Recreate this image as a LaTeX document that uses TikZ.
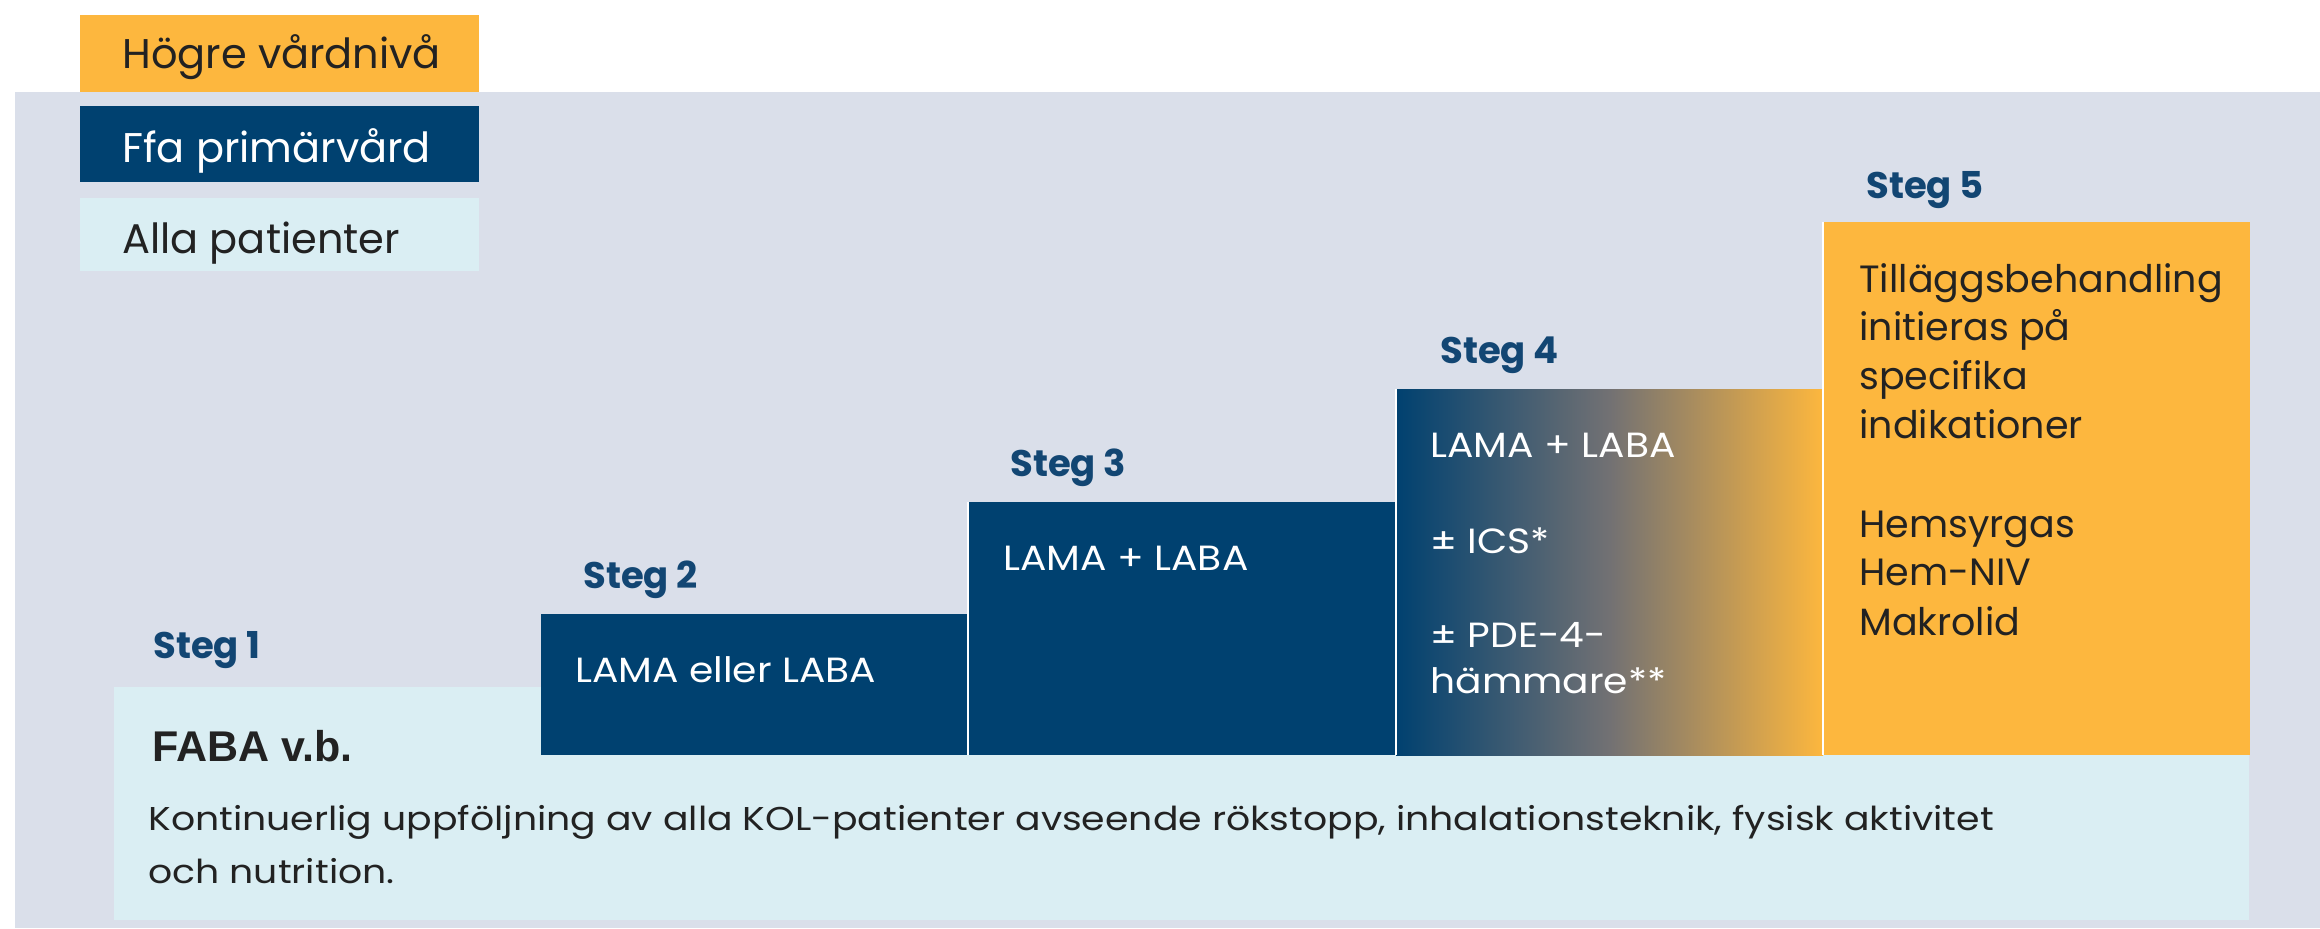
\documentclass[tikz,border=0pt]{standalone}
\usepackage{fontspec}
\setmainfont{Poppins}
\newfontfamily\fabafont{Liberation Sans}
\newfontfamily\stepface[FakeStretch=1.12]{Poppins}
\newfontfamily\bodyface[FakeStretch=1.145]{Poppins}
\definecolor{bgGray}{HTML}{DADFEA}
\definecolor{careOrange}{HTML}{FDB73E}
\definecolor{careNavy}{HTML}{004170}
\definecolor{careCyan}{HTML}{DAEEF3}
\definecolor{blendGray}{HTML}{727173}
\definecolor{stegBlue}{HTML}{124673}
\definecolor{inkDark}{HTML}{222222}
\begin{document}
\begin{tikzpicture}[x=0.5pt,y=-0.5pt,
  every node/.style={inner sep=0pt, anchor=base west},
  legendtext/.style={font=\fontsize{20.75}{24}\selectfont},
  steglabel/.style={font=\bfseries\fontsize{18.5}{22}\selectfont, text=stegBlue},
  boxtext/.style={font=\stepface\fontsize{17.5}{21}\selectfont, text=white},
  addtext/.style={font=\fontsize{19}{22}\selectfont, text=inkDark},
  bodytext/.style={font=\bodyface\fontsize{16.5}{20}\selectfont, text=inkDark},
  separator/.style={draw=white, line width=1pt},
]
\useasboundingbox (0,0) rectangle (2320,928);

% grey panel behind the staircase
\fill[bgGray] (15,92) rectangle (2320,928);

% legend
\fill[careOrange] (80,15) rectangle (479,92);
\fill[careNavy] (80,106) rectangle (479,182);
\fill[careCyan] (80,198) rectangle (479,271);
\node[legendtext, text=inkDark] (lgHigh) at (122,68) {Högre vårdnivå};
\node[legendtext, text=white] (lgPrim) at (122,162) {Ffa primärvård};
\node[legendtext, text=inkDark] (lgAll) at (122,253) {Alla patienter};

% base band for all patients
\fill[careCyan] (114,687) rectangle (2249,920);

% steps 2 to 5
\fill[careNavy] (541,614) rectangle (968,755);
\fill[careNavy] (968,502) rectangle (1396,755);
\shade[left color=careNavy, right color=careOrange, middle color=blendGray] (1396,389) rectangle (1823,755);
\fill[careOrange] (1823,222) rectangle (2250,755);
\draw[separator] (968,502) -- (968,755);
\draw[separator] (1396,389) -- (1396,755);
\draw[separator] (1823,222) -- (1823,755);

% step labels
\node[steglabel] (st1) at (153,658) {Steg 1};
\node[steglabel] (st2) at (583,588) {Steg 2};
\node[steglabel] (st3) at (1010,476) {Steg 3};
\node[steglabel] (st4) at (1440,363) {Steg 4};
\node[steglabel] (st5) at (1866,198) {Steg 5};

% step contents
\node[boxtext] (s2a) at (575,682) {LAMA eller LABA};
\node[boxtext] (s3a) at (1003,570) {LAMA + LABA};
\node[boxtext] (s4a) at (1430,457) {LAMA + LABA};
\node[boxtext] (s4b) at (1430,553) {± ICS*};
\node[boxtext] (s4c) at (1430,647) {± PDE-4-};
\node[boxtext] (s4d) at (1430,693) {hämmare**};

\node[addtext] (s5a) at (1859,292) {Tilläggsbehandling};
\node[addtext] (s5b) at (1859,340) {initieras på};
\node[addtext] (s5c) at (1859,389) {specifika};
\node[addtext] (s5d) at (1859,438) {indikationer};
\node[addtext] (s5e) at (1859,537) {Hemsyrgas};
\node[addtext] (s5f) at (1859,585) {Hem-NIV};
\node[addtext] (s5g) at (1859,635) {Makrolid};

% step 1 contents
\node[font=\fabafont\bfseries\fontsize{21.5}{24}\selectfont, text=inkDark] (faba) at (152,761) {FABA v.b.};
\node[bodytext] (follow1) at (148,830) {Kontinuerlig uppföljning av alla KOL-patienter avseende rökstopp, inhalationsteknik, fysisk aktivitet};
\node[bodytext] (follow2) at (148,883) {och nutrition.};
\end{tikzpicture}
\end{document}
